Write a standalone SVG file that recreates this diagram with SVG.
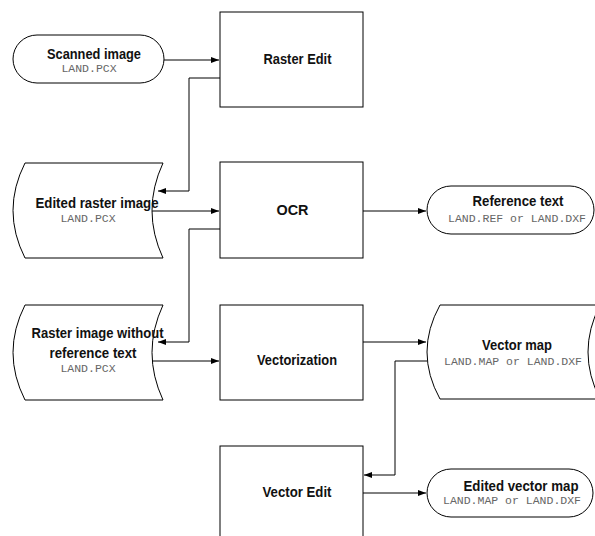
<svg xmlns="http://www.w3.org/2000/svg" width="595" height="536" viewBox="0 0 595 536">
<style>
.s{fill:#fff;stroke:#000;stroke-width:1}
.t{font-family:"Liberation Sans",Arial,sans-serif;font-weight:bold;font-size:15px;fill:#111;text-anchor:middle}
.m{font-family:"Liberation Mono","Courier New",monospace;font-size:11.5px;fill:#666;text-anchor:middle}
.c{fill:none;stroke:#000;stroke-width:1}
</style>
<defs>
<marker id="a" markerWidth="8" markerHeight="6" refX="8" refY="3" orient="auto" markerUnits="userSpaceOnUse">
<path d="M0,0 L8,3 L0,6 Z" fill="#000"/>
</marker>
</defs>
<rect width="595" height="536" fill="#fff"/>
<g id="scanned">
<rect class="s" x="13" y="35" width="151" height="48" rx="24"/>
<text class="t" x="94" y="59" textLength="94" lengthAdjust="spacingAndGlyphs">Scanned image</text>
<text class="m" x="89" y="72">LAND.PCX</text>
</g>
<g id="rasteredit">
<rect class="s" x="220" y="12" width="143" height="95"/>
<text class="t" x="297.5" y="64" textLength="68" lengthAdjust="spacingAndGlyphs">Raster Edit</text>
</g>
<g id="editedraster">
<path class="s" d="M25,163 H163 Q141,210.5 163,258 H25 Q1,210.5 25,163 Z"/>
<text class="t" x="97" y="208" textLength="123" lengthAdjust="spacingAndGlyphs">Edited raster image</text>
<text class="m" x="88" y="222">LAND.PCX</text>
</g>
<g id="ocr">
<rect class="s" x="220" y="162" width="143" height="96"/>
<text class="t" x="292.5" y="215" textLength="32" lengthAdjust="spacingAndGlyphs">OCR</text>
</g>
<g id="reftext">
<rect class="s" x="427" y="186" width="167" height="48" rx="24"/>
<text class="t" x="518" y="206" textLength="91" lengthAdjust="spacingAndGlyphs">Reference text</text>
<text class="m" x="517" y="222">LAND.REF or LAND.DXF</text>
</g>
<g id="rasterwo">
<path class="s" d="M25,305 H163 Q141,352.5 163,400 H25 Q1,352.5 25,305 Z"/>
<text class="t" x="97.5" y="338" textLength="132" lengthAdjust="spacingAndGlyphs">Raster image without</text>
<text class="t" x="93" y="358" textLength="87" lengthAdjust="spacingAndGlyphs">reference text</text>
<text class="m" x="88" y="372">LAND.PCX</text>
</g>
<g id="vectorization">
<rect class="s" x="220" y="305" width="143" height="95"/>
<text class="t" x="297" y="365" textLength="80" lengthAdjust="spacingAndGlyphs">Vectorization</text>
</g>
<g id="vectormap">
<path class="s" d="M440,305 H600 Q576,352 600,399 H440 Q414,352 440,305 Z"/>
<text class="t" x="517" y="350" textLength="70" lengthAdjust="spacingAndGlyphs">Vector map</text>
<text class="m" x="513" y="365">LAND.MAP or LAND.DXF</text>
</g>
<g id="vectoredit">
<rect class="s" x="220" y="446" width="143" height="96"/>
<text class="t" x="297" y="497" textLength="69" lengthAdjust="spacingAndGlyphs">Vector Edit</text>
</g>
<g id="editedvector">
<rect class="s" x="427" y="469" width="166" height="48" rx="24"/>
<text class="t" x="521" y="491" textLength="115" lengthAdjust="spacingAndGlyphs">Edited vector map</text>
<text class="m" x="512" y="504">LAND.MAP or LAND.DXF</text>
</g>
<g id="connectors">
<path class="c" d="M164,60 H219" marker-end="url(#a)"/>
<path class="c" d="M220,78 H189 V191 H158" marker-end="url(#a)"/>
<path class="c" d="M152,211 H219" marker-end="url(#a)"/>
<path class="c" d="M363,211 H426" marker-end="url(#a)"/>
<path class="c" d="M220,229 H189 V342 H158" marker-end="url(#a)"/>
<path class="c" d="M152,361 H219" marker-end="url(#a)"/>
<path class="c" d="M363,342 H426" marker-end="url(#a)"/>
<path class="c" d="M427,361 H395 V475 H364" marker-end="url(#a)"/>
<path class="c" d="M363,493 H426" marker-end="url(#a)"/>
</g>
</svg>
